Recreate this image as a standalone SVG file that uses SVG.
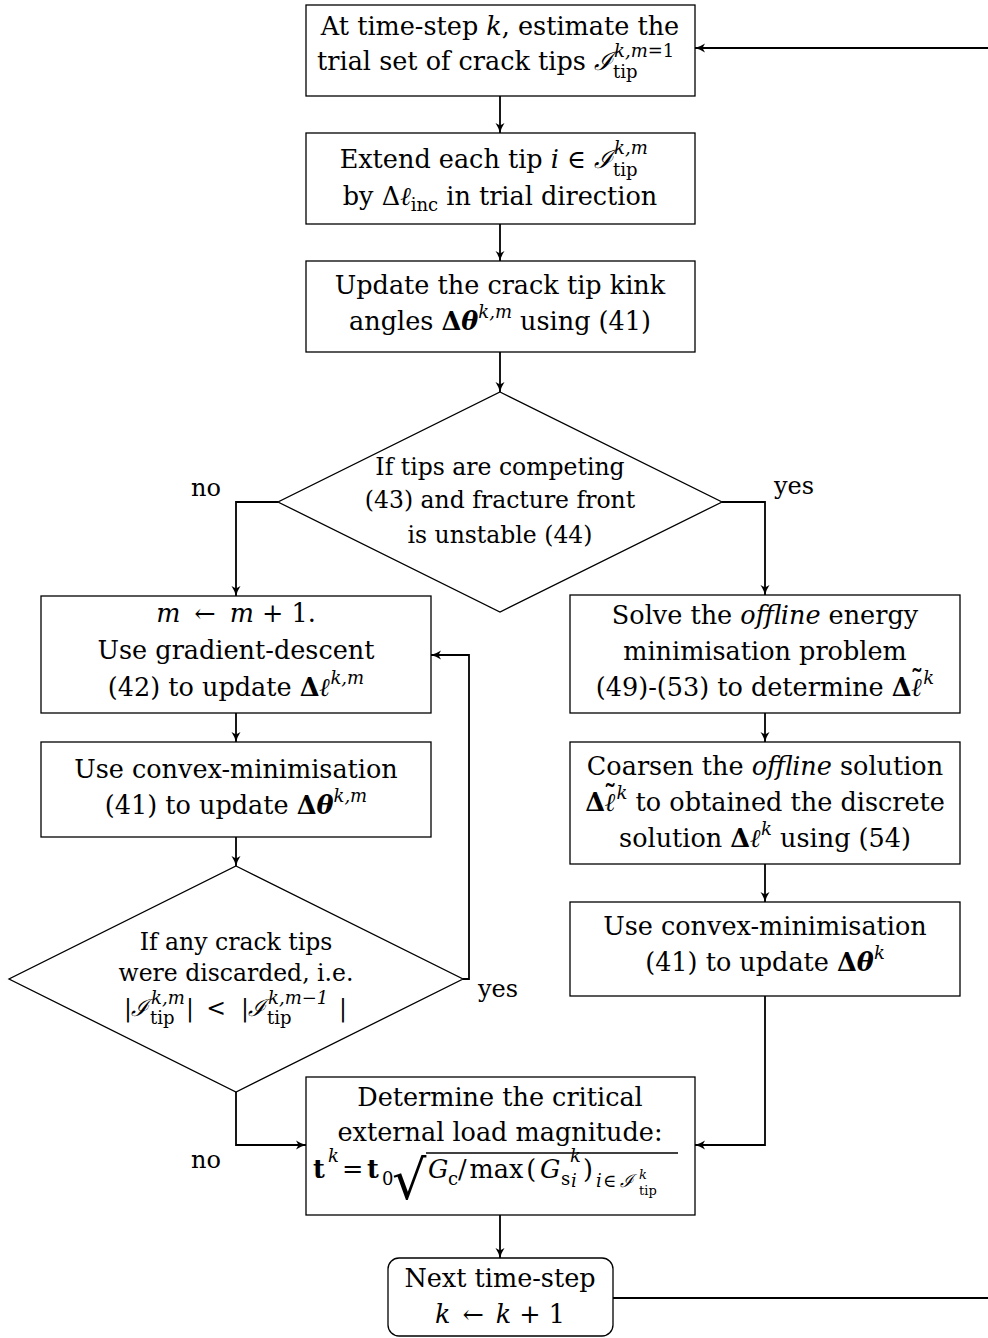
<svg xmlns="http://www.w3.org/2000/svg" width="988" height="1338" viewBox="0 0 988 1338">
<style>
.box{fill:#fff;stroke:#000;stroke-width:1.3}
text{font-family:'DejaVu Serif','Liberation Serif',serif;font-size:25.5px;fill:#000}
.d{font-size:23.5px}
.lb{font-size:24px}
.m{text-anchor:middle}
.e{text-anchor:end}
.i{font-style:italic}
.b{font-weight:bold}
.s{font-size:18px}
.ss{font-size:13px}
.c{fill:none;stroke:#000;stroke-width:1.8}
</style>
<defs>
<marker id="ah" markerWidth="12" markerHeight="12" refX="10" refY="5" orient="auto" markerUnits="userSpaceOnUse">
<path d="M0,0.5 Q5,3.8 10,5 Q5,6.2 0,9.5 L2.5,5 Z" fill="#000"/>
</marker>
</defs>
<rect width="988" height="1338" fill="#fff"/>
<g id="connectors">
<path class="c" d="M500,96 V133" marker-end="url(#ah)"/>
<path class="c" d="M500,224 V261" marker-end="url(#ah)"/>
<path class="c" d="M500,352 V392" marker-end="url(#ah)"/>
<path class="c" d="M278,502 H236 V596" marker-end="url(#ah)"/>
<path class="c" d="M722,502 H765 V595" marker-end="url(#ah)"/>
<path class="c" d="M236,713 V742" marker-end="url(#ah)"/>
<path class="c" d="M236,837 V866" marker-end="url(#ah)"/>
<path class="c" d="M765,713 V742" marker-end="url(#ah)"/>
<path class="c" d="M765,864 V902" marker-end="url(#ah)"/>
<path class="c" d="M463,979 H469 V655 H431" marker-end="url(#ah)"/>
<path class="c" d="M236,1092 V1145 H306" marker-end="url(#ah)"/>
<path class="c" d="M765,996 V1145 H695" marker-end="url(#ah)"/>
<path class="c" d="M500,1215 V1258" marker-end="url(#ah)"/>
<path class="c" d="M613,1298 H988"/>
<path class="c" d="M988,48 H695" marker-end="url(#ah)"/>
<text class="m lb" x="206" y="496">no</text>
<text class="m lb" x="794" y="494">yes</text>
<text class="m lb" x="498" y="997">yes</text>
<text class="m lb" x="206" y="1168">no</text>
</g>
<g id="start">
<rect class="box" x="306" y="5" width="389" height="91"/>
<text class="m" x="500" y="35">At time-step <tspan class="i">k</tspan>, estimate the</text>
<text class="e" x="613" y="70">trial set of crack tips <tspan class="i">ℐ</tspan></text>
<text class="s i" x="614" y="57">k,m<tspan style="font-style:normal">=1</tspan></text>
<text class="s" x="613" y="78">tip</text>
</g>
<g id="extend">
<rect class="box" x="306" y="133" width="389" height="91"/>
<text class="e" x="613" y="168">Extend each tip <tspan class="i">i</tspan> ∈ <tspan class="i">ℐ</tspan></text>
<text class="s i" x="614" y="154">k,m</text>
<text class="s" x="613" y="176">tip</text>
<text class="m" x="500" y="205">by Δ<tspan class="i">ℓ</tspan><tspan class="s" dy="6">inc</tspan><tspan dy="-6"> in trial direction</tspan></text>
</g>
<g id="update">
<rect class="box" x="306" y="261" width="389" height="91"/>
<text class="m" x="500" y="294">Update the crack tip kink</text>
<text class="m" x="500" y="330">angles <tspan class="b">Δ</tspan><tspan class="b i">θ</tspan><tspan class="s i" dy="-12">k,m</tspan><tspan dy="12"> using (41)</tspan></text>
</g>
<g id="decision1">
<polygon class="box" points="500,392 722,502 500,612 278,502"/>
<text class="m d" x="500" y="475">If tips are competing</text>
<text class="m d" x="500" y="508">(43) and fracture front</text>
<text class="m d" x="500" y="543">is unstable (44)</text>
</g>
<g id="gradient">
<rect class="box" x="41" y="596" width="390" height="117"/>
<text class="m" x="236" y="622"><tspan class="i">m</tspan><tspan dx="14">←</tspan><tspan class="i" dx="14">m</tspan> + 1.</text>
<text class="m" x="236" y="659">Use gradient-descent</text>
<text class="m" x="236" y="696">(42) to update <tspan class="b">Δ</tspan><tspan class="b i">ℓ</tspan><tspan class="s i" dy="-12">k,m</tspan></text>
</g>
<g id="convex1">
<rect class="box" x="41" y="742" width="390" height="95"/>
<text class="m" x="236" y="778">Use convex-minimisation</text>
<text class="m" x="236" y="814">(41) to update <tspan class="b">Δ</tspan><tspan class="b i">θ</tspan><tspan class="s i" dy="-12">k,m</tspan></text>
</g>
<g id="decision2">
<polygon class="box" points="236,866 463,979 236,1092 9,979"/>
<text class="m d" x="236" y="950">If any crack tips</text>
<text class="m d" x="236" y="981">were discarded, i.e.</text>
<text class="d" x="124" y="1016">|</text>
<text class="d i" x="131" y="1016">ℐ</text>
<text class="s i" x="151" y="1004">k,m</text>
<text class="s" x="150" y="1024">tip</text>
<text class="d" x="186" y="1016">|</text>
<text class="m d" x="216" y="1016">&lt;</text>
<text class="d" x="241" y="1016">|</text>
<text class="d i" x="248" y="1016">ℐ</text>
<text class="s i" x="268" y="1004">k,m−1</text>
<text class="s" x="267" y="1024">tip</text>
<text class="d" x="339" y="1016">|</text>
</g>
<g id="offline">
<rect class="box" x="570" y="595" width="390" height="118"/>
<text class="m" x="765" y="624">Solve the <tspan class="i">offline</tspan> energy</text>
<text class="m" x="765" y="660">minimisation problem</text>
<text class="m" x="765" y="696">(49)-(53) to determine <tspan class="b">Δ</tspan><tspan class="b i">ℓ</tspan><tspan class="b" dx="-12" dy="-7">˜</tspan><tspan class="s i" dx="0" dy="-5">k</tspan></text>
</g>
<g id="coarsen">
<rect class="box" x="570" y="742" width="390" height="122"/>
<text class="m" x="765" y="775">Coarsen the <tspan class="i">offline</tspan> solution</text>
<text class="m" x="765" y="811"><tspan class="b">Δ</tspan><tspan class="b i">ℓ</tspan><tspan class="b" dx="-12" dy="-7">˜</tspan><tspan class="s i" dx="0" dy="-5">k</tspan><tspan dy="12"> to obtained the discrete</tspan></text>
<text class="m" x="765" y="847">solution <tspan class="b">Δ</tspan><tspan class="b i">ℓ</tspan><tspan class="s i" dy="-12">k</tspan><tspan dy="12"> using (54)</tspan></text>
</g>
<g id="convex2">
<rect class="box" x="570" y="902" width="390" height="94"/>
<text class="m" x="765" y="935">Use convex-minimisation</text>
<text class="m" x="765" y="971">(41) to update <tspan class="b">Δ</tspan><tspan class="b i">θ</tspan><tspan class="s i" dy="-12">k</tspan></text>
</g>
<g id="critical">
<rect class="box" x="306" y="1077" width="389" height="138"/>
<text class="m" x="500" y="1106">Determine the critical</text>
<text class="m" x="500" y="1141">external load magnitude:</text>
<text class="b" x="313" y="1178">t</text>
<text class="s i" x="328" y="1162">k</text>
<text x="342" y="1178">=</text>
<text class="b" x="367" y="1178">t</text>
<text class="s" x="382" y="1185">0</text>
<text x="392" y="1199" style="font-size:54px">√</text>
<line x1="426" y1="1153" x2="678" y2="1153" stroke="#000" stroke-width="1.3"/>
<text class="i" x="428" y="1178">G</text>
<text class="s" x="448" y="1185">c</text>
<text x="458" y="1178">/<tspan dx="3">max</tspan><tspan dx="3">(</tspan></text>
<text class="i" x="540" y="1178">G</text>
<text class="s" x="561" y="1185">s</text>
<text class="s i" x="571" y="1187">i</text>
<text class="s i" x="570" y="1162">k</text>
<text x="583" y="1178">)</text>
<text class="s i" x="596" y="1187">i</text>
<text class="s" x="603" y="1187">∈</text>
<text class="s i" x="620" y="1187">ℐ</text>
<text class="ss i" x="639" y="1179">k</text>
<text class="ss" x="639" y="1195">tip</text>
</g>
<g id="next">
<rect class="box" x="388" y="1258" width="225" height="78" rx="11"/>
<text class="m" x="500" y="1287">Next time-step</text>
<text class="m" x="500" y="1323"><tspan class="i">k</tspan><tspan dx="12">←</tspan><tspan class="i" dx="12">k</tspan> + 1</text>
</g>
</svg>
